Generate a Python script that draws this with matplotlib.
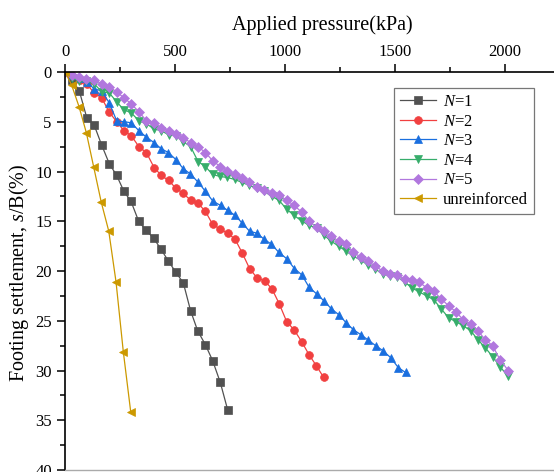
import numpy as np
import matplotlib
matplotlib.use('Agg')
import matplotlib.pyplot as plt
from matplotlib.ticker import MultipleLocator

plt.rcParams['font.family'] = ['Liberation Serif', 'DejaVu Serif']
plt.rcParams['mathtext.fontset'] = 'custom'
plt.rcParams['mathtext.it'] = 'Liberation Serif:italic'
plt.rcParams['mathtext.rm'] = 'Liberation Serif'

# pressure (kPa) and settlement s/B (%)
x_unr = [0, 30, 64, 97, 130, 165, 199, 232, 265, 299]
y_unr = [0, 1.3, 3.5, 6.1, 9.5, 13.1, 16.0, 21.1, 28.1, 34.2]

x_n1 = [0, 33, 65, 99, 132, 166, 201, 235, 268, 300, 335, 368, 403, 436, 470,
        503, 538, 571, 603, 638, 671, 706, 740]
y_n1 = [0, 0.8, 1.9, 4.6, 5.3, 7.3, 9.2, 10.4, 12.0, 13.0, 15.0, 15.9, 16.7,
        17.8, 19.0, 20.1, 21.2, 24.0, 26.0, 27.4, 29.0, 31.2, 34.0]

x_n2 = [0, 33, 66, 99, 132, 167, 200, 235, 268, 301, 336, 370, 405, 438, 471,
        505, 538, 571, 605, 638, 671, 706, 739, 773, 806, 840, 874, 908, 941,
        974, 1008, 1041, 1076, 1109, 1142, 1176]
y_n2 = [0, 0.4, 0.8, 1.2, 2.1, 2.6, 4.0, 5.0, 5.9, 6.4, 7.5, 8.1, 9.6, 10.4,
        10.9, 11.7, 12.2, 12.9, 13.2, 14.0, 15.3, 15.8, 16.2, 16.8, 18.2, 19.8,
        20.7, 21.0, 21.8, 23.3, 25.1, 25.9, 27.1, 28.4, 29.5, 30.7]

x_n3 = [0, 33, 66, 99, 133, 167, 201, 235, 268, 301, 336, 370, 405, 437, 470,
        504, 537, 570, 604, 637, 673, 707, 739, 773, 806, 839, 872, 905, 938,
        971, 1007, 1043, 1077, 1110, 1144, 1177, 1211, 1245, 1278, 1311, 1345,
        1379, 1412, 1445, 1480, 1515, 1548]
y_n3 = [0, 0.3, 0.6, 1.0, 1.7, 1.9, 3.1, 4.9, 5.0, 5.1, 5.9, 6.55, 7.1, 7.7,
        8.1, 8.8, 9.7, 10.25, 11.05, 11.95, 13.0, 13.4, 13.9, 14.4, 15.2, 16.0,
        16.2, 16.8, 17.3, 18.1, 18.75, 19.75, 20.4, 21.65, 22.3, 23.0, 23.8,
        24.4, 25.2, 25.9, 26.4, 26.95, 27.5, 28.0, 28.7, 29.7, 30.2]

x_n45 = [0, 30, 64, 97, 133, 168, 201, 235, 268, 301, 336, 370, 403, 436, 471,
         505, 538, 571, 605, 638, 671, 705, 738, 771, 805, 838, 873, 906, 940,
         973, 1008, 1041, 1077, 1110, 1144, 1177, 1210, 1244, 1277, 1310, 1344,
         1377, 1410, 1444, 1477, 1510, 1544, 1577, 1610, 1644, 1677, 1710, 1744,
         1777, 1810, 1844, 1877, 1910, 1944, 1977, 2015]
y_n4 = [0, 0.6, 0.9, 0.9, 1.2, 2.0, 2.1, 3.0, 3.8, 4.1, 4.9, 5.2, 5.7, 5.9, 6.3,
        6.4, 7.0, 7.5, 9.0, 9.5, 10.3, 10.5, 10.6, 10.8, 11.1, 11.4, 11.7, 12.0,
        12.5, 12.9, 13.8, 14.4, 15.0, 15.4, 15.7, 16.4, 17.0, 17.5, 18.0, 18.5,
        18.9, 19.4, 19.8, 20.3, 20.5, 20.6, 21.1, 21.7, 22.1, 22.5, 22.9, 23.8,
        24.7, 25.1, 25.5, 26.0, 26.9, 27.7, 28.6, 29.6, 30.6]
y_n5 = [0, 0.3, 0.5, 0.7, 0.8, 1.2, 1.5, 2.0, 2.6, 3.2, 4.0, 4.9, 5.1, 5.6, 5.9,
        6.2, 6.6, 7.1, 7.5, 8.1, 8.9, 9.5, 9.9, 10.3, 10.7, 11.1, 11.6, 11.9,
        12.2, 12.4, 12.9, 13.4, 14.1, 15.0, 15.6, 16.0, 16.5, 17.0, 17.3, 18.1,
        18.6, 19.0, 19.5, 20.0, 20.3, 20.4, 20.8, 20.9, 21.1, 21.7, 22.05, 22.8,
        23.5, 24.1, 24.9, 25.3, 26.0, 26.9, 27.5, 28.9, 30.0]

fig = plt.figure(figsize=(5.54, 4.72), dpi=100)
ax = fig.add_axes([65 / 554, 2 / 472, 1 - 65 / 554, (470 - 72) / 472])

series = [
    (x_n1, y_n1, '#515151', 's', r'$N$=1'),
    (x_n2, y_n2, '#F14040', 'o', r'$N$=2'),
    (x_n3, y_n3, '#1A6FDF', '^', r'$N$=3'),
    (x_n45, y_n4, '#37AD6B', 'v', r'$N$=4'),
    (x_n45, y_n5, '#B177DE', 'D', r'$N$=5'),
    (x_unr, y_unr, '#CC9900', '<', 'unreinforced'),
]
for xs, ys, c, m, lab in series:
    ms = 5.2 if m == 'D' else 5.6
    ax.plot(xs, ys, color=c, marker=m, markersize=ms, linewidth=0.9,
            markeredgewidth=0.5, label=lab)

ax.set_xlim(0, 2223)
ax.set_ylim(40, 0)
ax.xaxis.tick_top()
ax.xaxis.set_label_position('top')
ax.xaxis.set_major_locator(MultipleLocator(500))
ax.xaxis.set_minor_locator(MultipleLocator(250))
ax.yaxis.set_major_locator(MultipleLocator(5))
ax.yaxis.set_minor_locator(MultipleLocator(2.5))
ax.tick_params(which='major', direction='out', length=6, width=1.1, labelsize=12)
ax.tick_params(which='minor', direction='out', length=3.5, width=1.1)
ax.tick_params(axis='x', pad=3)

ax.spines['right'].set_visible(False)
ax.spines['left'].set_linewidth(1.2)
ax.spines['top'].set_linewidth(1.2)
ax.spines['bottom'].set_color('#aaaaaa')
ax.spines['bottom'].set_linewidth(1.0)

ax.set_xlabel('Applied pressure(kPa)', fontsize=14.5)
ax.xaxis.set_label_coords((322 - 65) / 489, (470 - 30) / 398)
ax.set_ylabel(r'Footing settlement, $s$/B(%)', fontsize=14.5)
ax.yaxis.set_label_coords((31 - 65) / 489, (470 - 273) / 398)

leg = ax.legend(loc='upper right', bbox_to_anchor=(534 / 554, 1 - 88 / 472),
                bbox_transform=fig.transFigure, fontsize=12, frameon=True,
                fancybox=False, edgecolor='#555555', handlelength=2.2,
                labelspacing=0.22, borderpad=0.35, handletextpad=0.4,
                borderaxespad=0)
leg.get_frame().set_linewidth(0.9)

fig.savefig('out.png', dpi=100)
